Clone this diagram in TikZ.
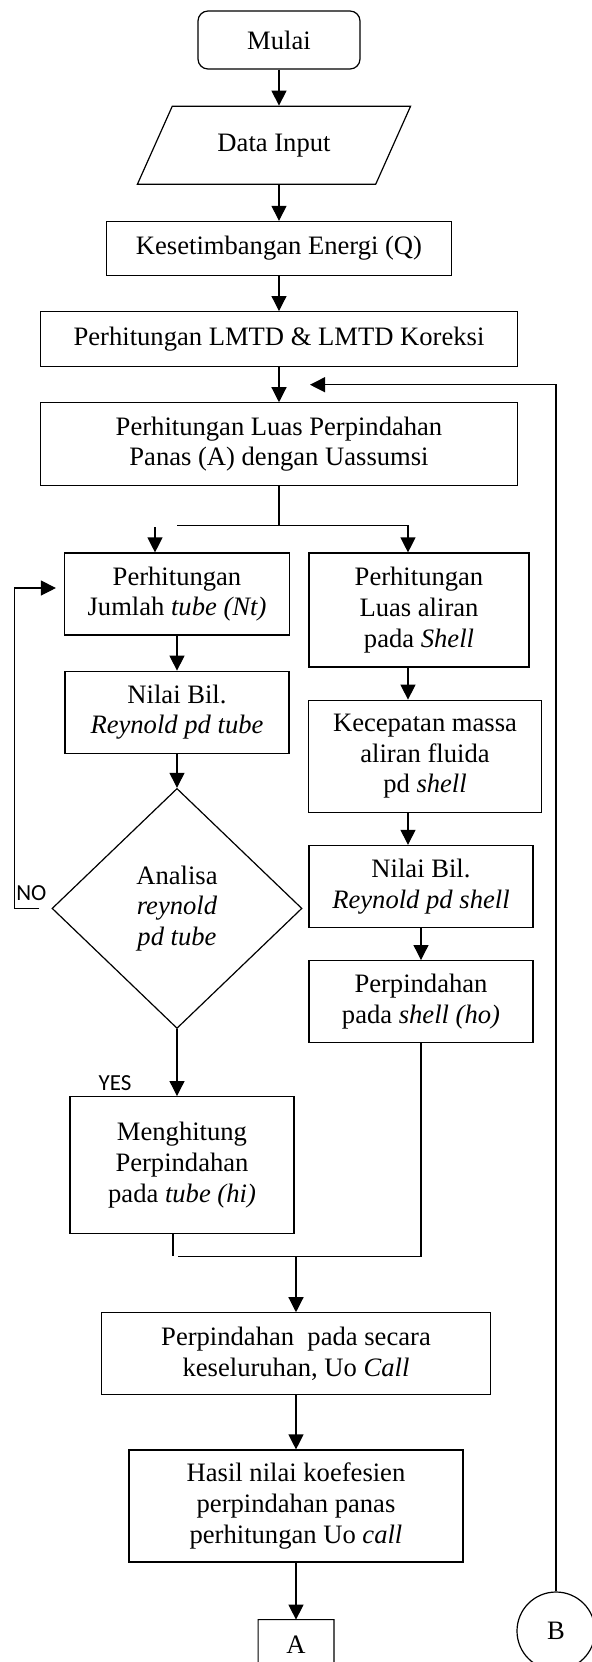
\documentclass[tikz,border=0pt]{standalone}
\usepackage{fontspec}
\setmainfont{Liberation Serif}
\newfontfamily\labelfont{Carlito}
\usetikzlibrary{shapes,arrows.meta,positioning,calc}

\begin{document}
\begin{tikzpicture}[
        font=\fontsize{13.3pt}{15.3pt}\selectfont,
        process/.style={rectangle, draw=black, line width=0.6pt, align=center, inner sep=2pt},
        startstop/.style={rectangle, rounded corners=5pt, draw=black, line width=0.6pt, minimum width=81pt, minimum height=29pt},
        io/.style={trapezium, trapezium left angle=50, trapezium right angle=130, trapezium stretches=true, draw=black, line width=0.6pt, minimum width=137.5pt, minimum height=39pt, inner sep=0pt},
        decision/.style={diamond, draw=black, line width=0.6pt, minimum width=125pt, minimum height=120pt, inner sep=0pt, align=center},
        connector/.style={circle, draw=black, line width=0.6pt, minimum size=39pt, inner sep=0pt},
        answer/.style={font=\labelfont\fontsize{11.5pt}{13pt}\selectfont, inner sep=0pt},
        flow/.style={-{Triangle[length=7.5pt,width=7.5pt]}, line width=0.6pt},
        line/.style={line width=0.6pt}
    ]
    \useasboundingbox (0,0) rectangle (296pt,-831pt);

    % Main column
    \node[startstop] (mulai) at (139.5pt,-20pt) {Mulai};
    \node[io, below=18pt of mulai, xshift=-2.5pt] (input) {Data Input};
    \node[process, below=18pt of input, xshift=2.5pt, minimum width=172.5pt, minimum height=27pt] (energi) {Kesetimbangan Energi (Q)};
    \node[process, below=17.5pt of energi, minimum width=238.5pt, minimum height=27.5pt] (lmtd) {Perhitungan LMTD \& LMTD Koreksi};
    \node[process, below=17.5pt of lmtd, minimum width=238.5pt, minimum height=41.5pt] (luas) {Perhitungan Luas Perpindahan\\Panas (A) dengan Uassumsi};

    % Tube side
    \node[process, below=33pt of luas, xshift=-51pt, minimum width=112.5pt, minimum height=41pt] (nt) {Perhitungan\\Jumlah \textit{tube (Nt)}};
    \node[process, below=17.5pt of nt, minimum width=112pt, minimum height=41pt] (retube) {Nilai Bil.\\\textit{Reynold pd tube}};
    \node[decision, below=17pt of retube] (cek) {Analisa\\\textit{reynold}\\\textit{pd tube}};
    \node[process, below=33.5pt of cek, xshift=2.5pt, minimum width=112pt, minimum height=68.5pt] (hi) {Menghitung\\Perpindahan\\pada \textit{tube (hi)}};

    % Shell side
    \node[process, below=33pt of luas, xshift=70pt, minimum width=110pt, minimum height=57pt] (aliran) {Perhitungan\\Luas aliran\\pada \textit{Shell}};
    \node[process, below=16pt of aliran, xshift=3pt, minimum width=116.5pt, minimum height=56pt] (kecepatan) {Kecepatan massa\\aliran fluida\\pd \textit{shell}};
    \node[process, below=16pt of kecepatan, xshift=-2pt, minimum width=112pt, minimum height=41pt] (reshell) {Nilai Bil.\\\textit{Reynold pd shell}};
    \node[process, below=16pt of reshell, minimum width=112pt, minimum height=41pt] (ho) {Perpindahan\\pada \textit{shell (ho)}};

    % Overall coefficient
    \node[process, below=39pt of hi, xshift=57pt, minimum width=194.5pt, minimum height=41pt] (uo) {Perpindahan\ \ pada secara\\keseluruhan, Uo \textit{Call}};
    \node[process, below=27pt of uo, minimum width=167pt, minimum height=56pt] (hasil) {Hasil nilai koefesien\\perpindahan panas\\perhitungan Uo \textit{call}};

    % Connectors A and B
    \node[below=28.5pt of hasil, minimum width=37.5pt, minimum height=25pt, inner sep=0pt] (a) {A};
    \draw[line] (a.south west) -- (a.north west) -- (a.north east) -- (a.south east) -- ($(a.south)+(0,-4pt)$) -- cycle;
    \node[connector] (b) at (278pt,-815.5pt) {B};

    % Flows
    \draw[flow] (mulai) -- (mulai |- input.north);
    \draw[flow] (mulai |- input.south) -- (energi);
    \draw[flow] (energi) -- (lmtd);
    \draw[flow] (lmtd) -- (luas);

    \coordinate (split) at ($(luas.south)+(0,-19.5pt)$);
    \coordinate (rcol) at ($(aliran.north)+(-5.5pt,0)$);
    \draw[line] (luas) -- (split);
    \draw[flow] (nt.north |- split) -| (rcol);
    \draw[flow] ($(nt.north)+(-11pt,12.5pt)$) -- ($(nt.north)+(-11pt,0)$);

    \draw[flow] (nt) -- (retube);
    \draw[flow] (retube) -- (cek);
    \draw[flow] ($(cek.west)+(-6pt,0)$) -- ++(-12.5pt,0) |- ($(nt.west)+(-4pt,3pt)$);
    \node[answer] (no) at ($(cek.west)+(-10pt,7.5pt)$) {NO};
    \draw[flow] (cek.south) -- (cek.south |- hi.north);
    \node[answer] (yes) at ($(hi.north)+(-33.5pt,6.5pt)$) {YES};

    \draw[flow] (aliran.south -| rcol) -- (kecepatan.north -| rcol);
    \draw[flow] (kecepatan.south -| rcol) -- (reshell.north -| rcol);
    \draw[flow] (reshell) -- (ho);

    \coordinate (join) at ($(hi.south)+(0,-11pt)$);
    \draw[line] ($(hi.south)+(-4.5pt,0)$) -- ($(join)+(-4.5pt,0)$);
    \draw[line] (ho.south) |- ($(join)+(-2pt,0)$);
    \draw[flow] (uo.north |- join) -- (uo.north);
    \draw[flow] (uo) -- (hasil);
    \draw[flow] (hasil) -- (a);

    % Loop back from B
    \coordinate (loopin) at ($(lmtd.south)!0.5!(luas.north)+(15.5pt,0)$);
    \draw[flow] (b.north) |- (loopin);

\end{tikzpicture}
\end{document}
